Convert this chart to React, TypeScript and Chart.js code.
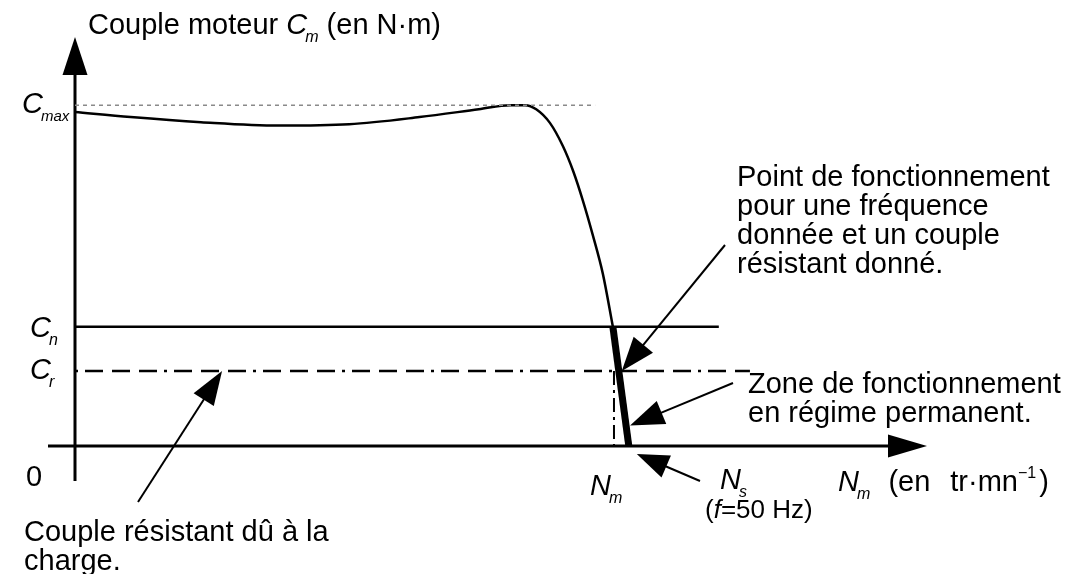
import React, { useEffect, useRef } from "react";
import { Chart, registerables } from "chart.js";

Chart.register(...registerables);

// ---- data (speed in tr/mn, torque in % of Cmax) ----
const X_MAX = 2300;
const Y_MAX = 120;
const C_MAX = 100;
const C_N = 35;
const C_R = 22;
const N_S = 1495;
const N_M = 1455;
const N_TOP = 1452; // speed where the operating zone starts (at C_N)

const curveSpeed = [0, 150, 340, 550, 740, 930, 1090, 1175, 1215, 1245, 1282, 1317, 1345, 1371, 1398, 1425, 1452];
const curveTorque = [98, 96.5, 95, 94, 94.4, 96.5, 98.8, 100, 100, 98.8, 94.8, 88, 80.6, 72, 61.8, 50.5, 35];

const cmaxLineEnd = 1404;
const cnLineEnd = 1738;
const crLineEnd = 1822;
const resArrowSpeed = 397; // where the "couple résistant" arrow hits C_r
const zoneArrowTorque = 6;

const FONT = '"Liberation Sans", Arial, sans-serif';
const SIZE = 29;
const SUB = 16;

type Part = { t: string; it?: boolean; sub?: boolean; sup?: boolean; size?: number; dx?: number };

function drawRich(ctx: CanvasRenderingContext2D, x: number, y: number, parts: Part[]) {
  let cx = x;
  for (const p of parts) {
    const size = p.size ?? (p.sub || p.sup ? SUB : SIZE);
    ctx.font = `${p.it ? "italic " : ""}${size}px ${FONT}`;
    const dy = p.sub ? 8 : p.sup ? -13 : 0;
    cx += p.dx ?? (p.sub ? -2 : 0);
    ctx.fillText(p.t, cx, y + dy);
    cx += ctx.measureText(p.t).width;
  }
}

function arrow(ctx: CanvasRenderingContext2D, x1: number, y1: number, x2: number, y2: number, hl: number, hw: number, lw: number) {
  const dx = x2 - x1, dy = y2 - y1;
  const len = Math.hypot(dx, dy);
  const ux = dx / len, uy = dy / len;
  const bx = x2 - ux * hl, by = y2 - uy * hl;
  ctx.save();
  ctx.strokeStyle = "#000";
  ctx.fillStyle = "#000";
  ctx.lineWidth = lw;
  ctx.setLineDash([]);
  ctx.beginPath();
  ctx.moveTo(x1, y1);
  ctx.lineTo(bx + ux * 2, by + uy * 2);
  ctx.stroke();
  ctx.beginPath();
  ctx.moveTo(x2, y2);
  ctx.lineTo(bx - uy * hw / 2, by + ux * hw / 2);
  ctx.lineTo(bx + uy * hw / 2, by - ux * hw / 2);
  ctx.closePath();
  ctx.fill();
  ctx.restore();
}

const diagramPlugin = {
  id: "diagram",
  beforeDatasetsDraw(chart: any) {
    const ctx = chart.ctx as CanvasRenderingContext2D;
    const xs = chart.scales.x, ys = chart.scales.y;
    const ax = xs.getPixelForValue(0);
    const ay = ys.getPixelForValue(0);
    const yTip = ys.getPixelForValue(Y_MAX);
    const xTip = xs.getPixelForValue(X_MAX);
    arrow(ctx, ax, ay + 35, ax, yTip, 38, 25, 3);
    arrow(ctx, ax - 27, ay, xTip, ay, 39, 23, 3);
  },
  afterDatasetsDraw(chart: any) {
    const ctx = chart.ctx as CanvasRenderingContext2D;
    const xs = chart.scales.x, ys = chart.scales.y;
    const px = (v: number) => xs.getPixelForValue(v);
    const py = (v: number) => ys.getPixelForValue(v);
    const zoneX = (c: number) => N_S + (N_TOP - N_S) * (c / C_N);

    arrow(ctx, 725, 245, px(zoneX(C_R)) + 3, py(C_R), 34, 25, 2);
    arrow(ctx, 733, 383, px(zoneX(zoneArrowTorque)) + 4, py(zoneArrowTorque), 34, 25, 2);
    arrow(ctx, 700, 481, px(N_S) + 8, py(0) + 8, 32, 24, 2);
    arrow(ctx, 138, 502, px(resArrowSpeed), py(C_R), 34, 24, 2);

    ctx.save();
    ctx.fillStyle = "#000";
    ctx.textBaseline = "alphabetic";
    drawRich(ctx, 88, 34, [{ t: "Couple moteur " }, { t: "C", it: true }, { t: "m", it: true, sub: true }, { t: " (en N·m)" }]);
    drawRich(ctx, 22, 113, [{ t: "C", it: true }, { t: "max", it: true, sub: true, size: 15 }]);
    drawRich(ctx, 30, 337, [{ t: "C", it: true }, { t: "n", it: true, sub: true }]);
    drawRich(ctx, 30, 379, [{ t: "C", it: true }, { t: "r", it: true, sub: true }]);
    drawRich(ctx, 26, 486, [{ t: "0" }]);
    drawRich(ctx, 590, 495, [{ t: "N", it: true }, { t: "m", it: true, sub: true }]);
    drawRich(ctx, 720, 489, [{ t: "N", it: true }, { t: "s", it: true, sub: true }]);
    drawRich(ctx, 705, 518, [{ t: "(", size: 26 }, { t: "f", it: true, size: 26 }, { t: "=50 Hz)", size: 26 }]);
    drawRich(ctx, 838, 491, [
      { t: "N", it: true },
      { t: "m", it: true, sub: true },
      { t: "  (en", dx: 2 },
      { t: "tr·mn", dx: 20 },
      { t: "−1", sup: true },
      { t: ")", dx: 3 },
    ]);
    const pointLines = ["Point de fonctionnement", "pour une fréquence", "donnée et un couple", "résistant donné."];
    pointLines.forEach((l, i) => drawRich(ctx, 737, 186 + i * 29, [{ t: l }]));
    const zoneLines = ["Zone de fonctionnement", "en régime permanent."];
    zoneLines.forEach((l, i) => drawRich(ctx, 748, 393 + i * 29, [{ t: l }]));
    const resLines = ["Couple résistant dû à la", "charge."];
    resLines.forEach((l, i) => drawRich(ctx, 24, 541 + i * 29, [{ t: l }]));
    ctx.restore();
  },
};

export default function App() {
  const ref = useRef<HTMLCanvasElement | null>(null);
  useEffect(() => {
    if (!ref.current) return;
    const pts = curveSpeed.map((x, i) => ({ x, y: curveTorque[i] }));
    const chart = new Chart(ref.current, {
      type: "line",
      data: {
        datasets: [
          {
            data: [{ x: 0, y: C_MAX }, { x: cmaxLineEnd, y: C_MAX }],
            borderColor: "#8a8a8a",
            borderWidth: 1.5,
            borderDash: [4, 4],
            pointRadius: 0,
            clip: false,
          },
          {
            data: [{ x: 0, y: C_N }, { x: cnLineEnd, y: C_N }],
            borderColor: "#000",
            borderWidth: 2.5,
            pointRadius: 0,
            clip: false,
          },
          {
            data: [{ x: 0, y: C_R }, { x: crLineEnd, y: C_R }],
            borderColor: "#000",
            borderWidth: 2.5,
            borderDash: [3, 7, 18, 9, 18, 9, 18, 7],
            pointRadius: 0,
            clip: false,
          },
          {
            data: [{ x: N_M, y: C_R }, { x: N_M, y: 0 }],
            borderColor: "#000",
            borderWidth: 2,
            borderDash: [14, 5, 3, 5],
            pointRadius: 0,
            clip: false,
          },
          {
            data: pts,
            borderColor: "#000",
            borderWidth: 2.5,
            tension: 0.4,
            cubicInterpolationMode: "monotone",
            pointRadius: 0,
            clip: false,
          },
          {
            data: [{ x: N_TOP, y: C_N }, { x: N_S, y: 0 }],
            borderColor: "#000",
            borderWidth: 7,
            borderCapStyle: "butt",
            pointRadius: 0,
            clip: false,
          },
        ] as any,
      },
      options: {
        animation: false,
        responsive: false,
        devicePixelRatio: 1,
        layout: { padding: { left: 75, right: 144, top: 37, bottom: 128 } },
        plugins: { legend: { display: false }, tooltip: { enabled: false } },
        scales: {
          x: { type: "linear", min: 0, max: X_MAX, display: false },
          y: { type: "linear", min: 0, max: Y_MAX, display: false },
        },
      },
      plugins: [diagramPlugin],
    });
    return () => chart.destroy();
  }, []);
  return (
    <div style={{ position: "absolute", left: 0, top: 0, width: 1071, height: 574, background: "#fff" }}>
      <canvas ref={ref} width={1071} height={574} />
    </div>
  );
}
